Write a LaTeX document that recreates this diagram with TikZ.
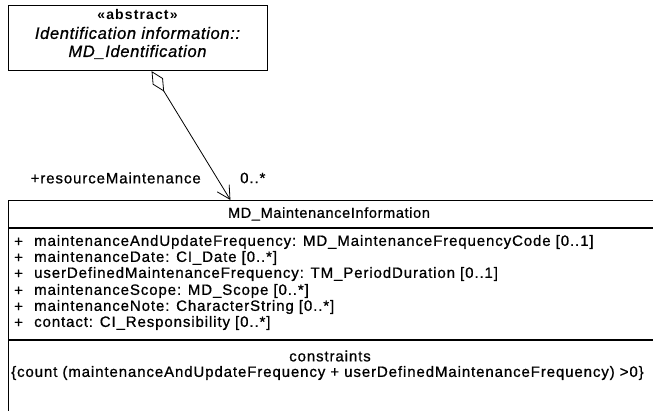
\documentclass[tikz,border=0pt]{standalone}
\usepackage{fontspec}
\setmainfont{Liberation Sans}
\newfontfamily\umlfont[LetterSpace=6,FakeBold=0.8]{Liberation Sans}
\newfontfamily\umlnamefont[LetterSpace=4.5,FakeBold=0.8]{Liberation Sans}
\newfontfamily\umltitlefont[LetterSpace=4,FakeBold=0.8]{Liberation Sans}
\newfontfamily\umlstereofont[LetterSpace=8]{Liberation Sans}
\usetikzlibrary{arrows.meta,calc}
\begin{document}
\begin{tikzpicture}[x=1pt,y=-1pt,
  box/.style={draw,line width=1.1pt,inner sep=0pt,anchor=north west},
  txt/.style={inner sep=0pt,font=\umlfont\fontsize{15}{17}\selectfont},
  attr/.style={txt,anchor=west},
  rule/.style={line width=1.1pt},
  assoc/.style={line width=0.8pt,
    {Diamond[open,length=24pt,width=12pt]}-{Straight Barb[length=13pt,width=14pt]}}]
\useasboundingbox (0,0) rectangle (653,411);
\clip (0,0) rectangle (653,411);

% abstract parent class
\node[box,minimum width=259pt,minimum height=65pt] (ident) at (8,5) {};
\node[txt,font=\umlstereofont\bfseries\fontsize{14}{16}\selectfont] (stereo) at (137.5,15) {«abstract»};
\node[txt,font=\umltitlefont\itshape\fontsize{16.5}{18}\selectfont] (iname1) at (137.5,33) {Identification information::};
\node[txt,font=\umltitlefont\itshape\fontsize{16.5}{18}\selectfont] (iname2) at (137.5,52) {MD\_Identification};

% maintenance class
\node[box,minimum width=646pt,minimum height=215pt] (maint) at (8,200) {};
\draw[rule] ($(maint.north west)+(0,28)$) -- ($(maint.north east)+(0,28)$);
\draw[rule] ($(maint.north west)+(0,140)$) -- ($(maint.north east)+(0,140)$);
\node[txt,font=\umlnamefont\fontsize{14.5}{17}\selectfont] (mname) at (329,214) {MD\_MaintenanceInformation};

\foreach \y/\t [count=\i] in {
  242/{maintenanceAndUpdateFrequency: MD\_MaintenanceFrequencyCode [0..1]},
  258/{maintenanceDate: CI\_Date [0..*]},
  274/{userDefinedMaintenanceFrequency: TM\_PeriodDuration [0..1]},
  291/{maintenanceScope: MD\_Scope [0..*]},
  307/{maintenanceNote: CharacterString [0..*]},
  323/{contact: CI\_Responsibility [0..*]}} {
  \node[attr] (vis\i) at (14,\y) {+};
  \node[attr] (att\i) at (34,\y) {\t};
}

\node[txt] (ctitle) at (330,356) {constraints};
\node[attr] (cbody) at (11,373) {\{count (maintenanceAndUpdateFrequency + userDefinedMaintenanceFrequency) >0\}};

% aggregation association
\coordinate (aggEnd) at ($(ident.south west)!0.552!(ident.south east)$);
\coordinate (navEnd) at ($(maint.north west)!0.3437!(maint.north east)$);
\draw[assoc] (aggEnd) -- (navEnd);
\node[txt,anchor=east] (role) at (201,178) {+resourceMaintenance};
\node[txt,anchor=west] (mult) at (240,178) {0..*};
\end{tikzpicture}
\end{document}
